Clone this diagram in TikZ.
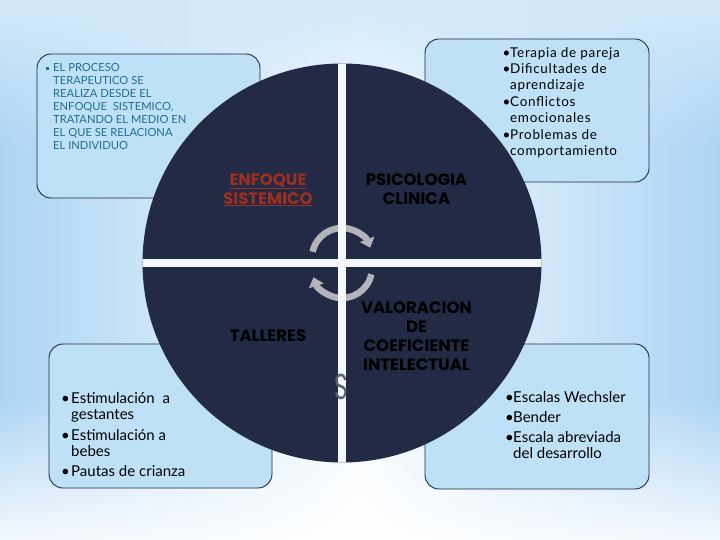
\documentclass[tikz,border=0pt]{standalone}
\usepackage{fontspec}
\setmainfont{Lato}
\newfontfamily\labelfont{Poppins}
\usetikzlibrary{arrows.meta,fadings}
\newcommand\mytopstrut[1]{\rule{0pt}{#1}}
\newcommand\bul[1]{\makebox[#1][l]{\textbullet}}
\definecolor{navy}{HTML}{222A45}
\definecolor{boxfill}{HTML}{BFE1F8}
\definecolor{boxline}{HTML}{1E2840}
\definecolor{tealtext}{HTML}{1F6E8E}
\definecolor{redtext}{HTML}{9E2F1C}
\definecolor{arrowgray}{HTML}{B3B4B9}
\definecolor{sgray}{HTML}{5E6373}
\definecolor{barwhite}{HTML}{F4F8FC}
\definecolor{bgside}{HTML}{ACD4F4}
\definecolor{bgmid}{HTML}{F8FBFE}
\definecolor{bgtop}{HTML}{D2E9FA}
\tikzfading[name=myfadetop, top color=transparent!0, bottom color=transparent!100]
\tikzfading[name=myfadebottom, top color=transparent!100, bottom color=transparent!0]
\begin{document}
\begin{tikzpicture}[x=1pt,y=-1pt,
  panel/.style={draw=boxline, line width=0.9pt, fill=boxfill, rounded corners=14pt, inner sep=0pt},
  listtext/.style={anchor=north west, inner sep=0pt, align=left, text=black},
  quadlabel/.style={anchor=north, inner sep=0pt, align=center, font=\labelfont\bfseries\fontsize{16.5}{18.9}\selectfont, text=black},
  cyclearrow/.style={draw=arrowgray, line width=6.5pt, -{Triangle[width=15pt,length=9pt]}}
]
\useasboundingbox (0,0) rectangle (720,540);
% background
\shade[left color=bgside, right color=bgside, middle color=bgmid] (0,0) rectangle (720,540);
\fill[bgtop, path fading=myfadetop] (0,0) rectangle (720,150);
\fill[white, path fading=myfadebottom, opacity=0.85] (0,400) rectangle (720,540);
% panels
\node[panel, minimum width=223pt, minimum height=144pt] (boxTL) at (148.5,126) {};
\node[panel, minimum width=224pt, minimum height=143pt] (boxTR) at (537,110.5) {};
\node[panel, minimum width=223pt, minimum height=144pt] (boxBL) at (160.5,416) {};
\node[panel, minimum width=224pt, minimum height=145pt] (boxBR) at (537,416.5) {};
% panel texts
\node[listtext, text=tealtext, font=\fontsize{11.2}{12.95}\selectfont] (txtTL) at (45.5,60.7)
 {\mytopstrut{11pt}\makebox[7.5pt][l]{\raisebox{2.2pt}{\rule{3pt}{3pt}}}EL PROCESO\\
  \hspace*{7.5pt}TERAPEUTICO SE\\
  \hspace*{7.5pt}REALIZA DESDE EL\\
  \hspace*{7.5pt}ENFOQUE \ SISTEMICO,\\
  \hspace*{7.5pt}TRATANDO EL MEDIO EN\\
  \hspace*{7.5pt}EL QUE SE RELACIONA\\
  \hspace*{7.5pt}EL INDIVIDUO};
\node[listtext, font=\fontsize{13.5}{16.4}\selectfont\addfontfeatures{LetterSpace=5}] (txtTR) at (502.5,45)
 {\mytopstrut{12pt}\bul{7.5pt}Terapia de pareja\\
  \bul{7.5pt}Dificultades de\\
  \hspace*{7.5pt}aprendizaje\\
  \bul{7.5pt}Conflictos\\
  \hspace*{7.5pt}emocionales\\
  \bul{7.5pt}Problemas de\\
  \hspace*{7.5pt}comportamiento};
\node[listtext, font=\fontsize{15}{16}\selectfont] (txtBL) at (61,390.3)
 {\mytopstrut{13pt}\bul{10pt}Estimulación\ \ a\\
  \hspace*{10pt}gestantes\\[4.7pt]
  \bul{10pt}Estimulación a\\
  \hspace*{10pt}bebes\\[4.7pt]
  \bul{10pt}Pautas de crianza};
\node[listtext, font=\fontsize{15}{16.6}\selectfont] (txtBR) at (505,389.7)
 {\mytopstrut{13pt}\bul{8pt}Escalas Wechsler\\[3pt]
  \bul{8pt}Bender\\[3pt]
  \bul{8pt}Escala abreviada\\
  \hspace*{8pt}del desarrollo};
% big circle
\node[circle, fill=navy, inner sep=0pt, minimum size=399pt] (disc) at (342,263) {};
% cycle arrows
\coordinate (cu) at (342,258);
\coordinate (cl) at (342,268);
\draw[cyclearrow] (cu) ++(192:30) arc[start angle=192, end angle=340, radius=30];
\draw[cyclearrow] (cl) ++(12:30) arc[start angle=12, end angle=162, radius=30];
% white cross
\begin{scope}
  \clip (disc.center) circle[radius=199.5pt];
  \fill[barwhite] (338,50) rectangle (346,480);
  \fill[barwhite] (130,259) rectangle (560,267);
\end{scope}
% grey S
\node[text=sgray, inner sep=0pt, font=\labelfont\fontsize{36}{36}\selectfont] (sletter) at (341,386.5) {\scalebox{0.65}[1]{S}};
% quadrant labels
\node[quadlabel, text=redtext] (enfoque) at (268,171) {\mytopstrut{14pt}\underline{ENFOQUE}\\ \underline{SISTEMICO}};
\node[quadlabel] (psico) at (416.5,171) {\mytopstrut{14pt}PSICOLOGIA\\ CLINICA};
\node[quadlabel] (talleres) at (268,327.7) {\mytopstrut{14pt}TALLERES};
\node[quadlabel] (valor) at (416.5,299.3) {\mytopstrut{14pt}VALORACION\\ DE\\ COEFICIENTE\\ INTELECTUAL};
\end{tikzpicture}
\end{document}
